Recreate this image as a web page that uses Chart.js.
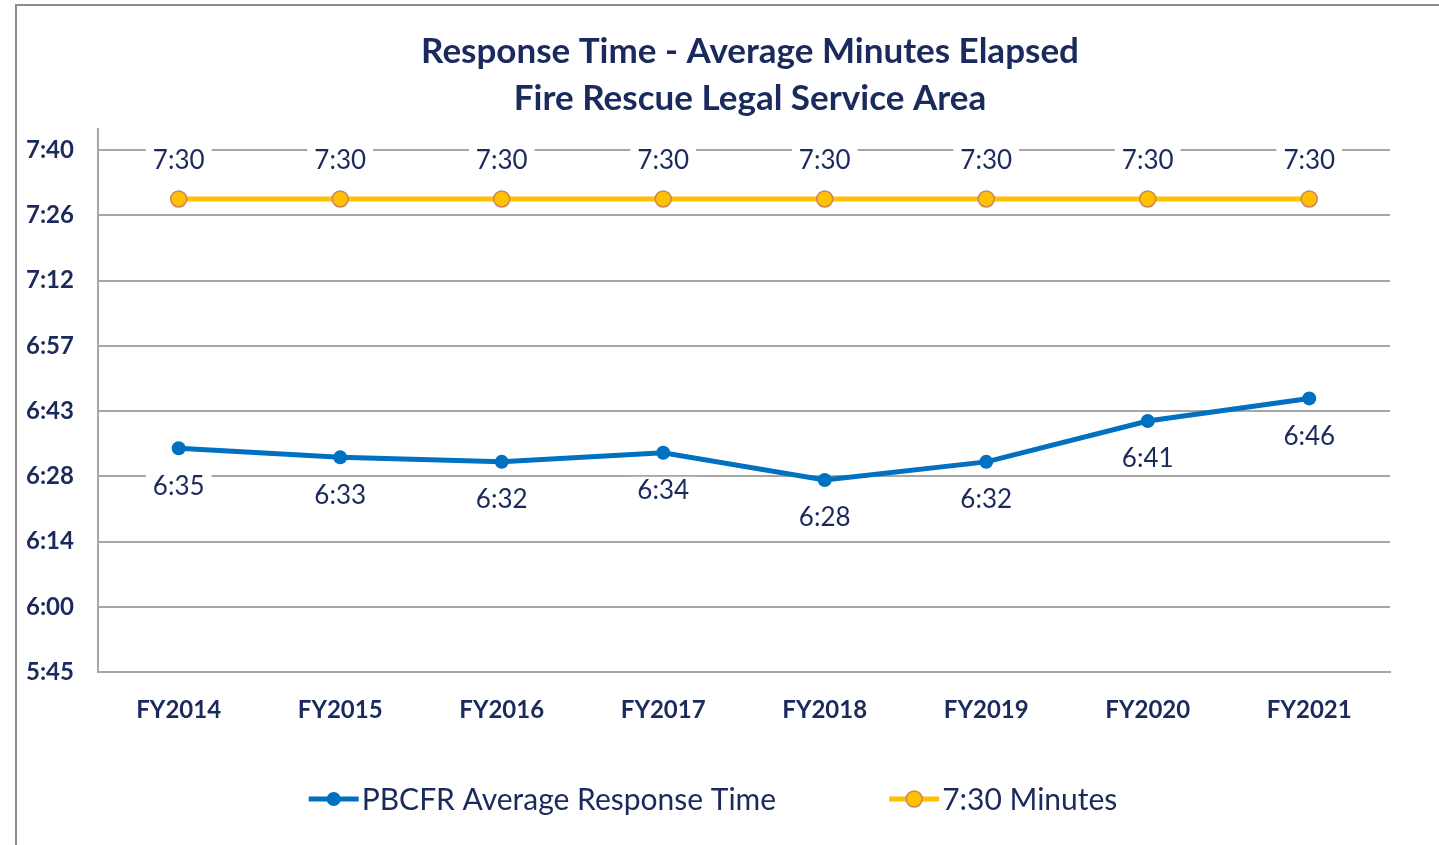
<!DOCTYPE html>
<html>
<head>
<meta charset="utf-8">
<script src="https://cdn.jsdelivr.net/npm/chart.js@4"></script>
<style>
    html, body { margin: 0; padding: 0; background: #fff; }
    .frame { position: absolute; left: 15px; top: 4px; width: 1440px; height: 860px; border-left: 2px solid #8c8c8c; border-top: 2px solid #8c8c8c; }
    .wrap { position: absolute; left: 0; top: 0; width: 1439px; height: 845px; }
</style>
</head>
<body>
<div class="frame"></div>
<div class="wrap"><canvas id="chart"></canvas></div>
<script>
// chart data (seconds)
const categories = ['FY2014', 'FY2015', 'FY2016', 'FY2017', 'FY2018', 'FY2019', 'FY2020', 'FY2021'];
const responseTime = [395, 393, 392, 394, 388, 392, 401, 406];
const targetTime = [450, 450, 450, 450, 450, 450, 450, 450];
// Excel axis: 0.004 day min, 0.000166.. day steps -> labels truncated to m:ss
const yMin = 345.6, yStep = 14.4;
const yTickLabels = ['5:45', '6:00', '6:14', '6:28', '6:43', '6:57', '7:12', '7:26', '7:40'];
const titleLines = ['Response Time - Average Minutes Elapsed', 'Fire Rescue Legal Service Area'];

const navy = '#1b2a5c';
const blue = '#0070c0';
const gold = '#ffc000';
const goldEdge = '#c8875a';

const fmt = s => Math.floor(s / 60) + ':' + String(s % 60).padStart(2, '0');

// value labels with a white box behind (covers gridlines like in Excel)
const valueLabels = {
    id: 'valueLabels',
    afterDatasetsDraw(chart) {
        const ctx = chart.ctx;
        ctx.save();
        ctx.font = '26px Lato';
        ctx.textAlign = 'center';
        ctx.textBaseline = 'middle';
        chart.data.datasets.forEach((ds, i) => {
            const meta = chart.getDatasetMeta(i);
            meta.data.forEach((pt, j) => {
                const txt = fmt(ds.data[j]);
                const w = ctx.measureText(txt).width + 14;
                const y = pt.y + ds.labelOffset;
                ctx.fillStyle = '#fff';
                ctx.fillRect(pt.x - w / 2, y - 14, w, 28);
                ctx.fillStyle = navy;
                ctx.fillText(txt, pt.x, y);
            });
        });
        ctx.restore();
    }
};

// title, legend and the little y-axis stub above the plot, Excel style
const decorations = {
    id: 'decorations',
    afterDraw(chart) {
        const ctx = chart.ctx;
        const area = chart.chartArea;
        ctx.save();

        // y axis goes a bit above the top gridline
        ctx.strokeStyle = '#a6a6a6';
        ctx.lineWidth = 2;
        ctx.beginPath();
        ctx.moveTo(area.left, area.top);
        ctx.lineTo(area.left, area.top - 22);
        ctx.stroke();

        // title
        ctx.fillStyle = navy;
        ctx.font = 'bold 35px Lato';
        ctx.textAlign = 'center';
        ctx.textBaseline = 'middle';
        titleLines.forEach((t, i) => ctx.fillText(t, 750, 52 + i * 47));

        // legend
        ctx.font = '30px Lato';
        ctx.textAlign = 'left';
        const iconW = 50, gap = 3, sep = 113, legendY = 799;
        const items = chart.data.datasets.map(ds => ({ ds, tw: ctx.measureText(ds.label).width }));
        const total = items.reduce((s, it) => s + iconW + gap + it.tw, 0) + sep * (items.length - 1);
        let x = 713 - total / 2;
        items.forEach(it => {
            const ds = it.ds;
            ctx.strokeStyle = ds.borderColor;
            ctx.lineWidth = 5;
            ctx.beginPath();
            ctx.moveTo(x, legendY);
            ctx.lineTo(x + iconW, legendY);
            ctx.stroke();
            ctx.fillStyle = ds.backgroundColor;
            ctx.beginPath();
            ctx.arc(x + iconW / 2, legendY, ds.pointRadius, 0, Math.PI * 2);
            ctx.fill();
            if (ds.pointBorderWidth) {
                ctx.strokeStyle = ds.pointBorderColor;
                ctx.lineWidth = ds.pointBorderWidth;
                ctx.stroke();
            }
            ctx.fillStyle = navy;
            ctx.fillText(ds.label, x + iconW + gap, legendY + 1);
            x += iconW + gap + it.tw + sep;
        });
        ctx.restore();
    }
};

new Chart(document.getElementById('chart'), {
    type: 'line',
    data: {
        labels: categories,
        datasets: [
            {
                label: 'PBCFR Average Response Time',
                data: responseTime,
                borderColor: blue,
                backgroundColor: blue,
                borderWidth: 5,
                pointRadius: 7,
                pointBorderWidth: 0,
                labelOffset: 38
            },
            {
                label: '7:30 Minutes',
                data: targetTime,
                borderColor: gold,
                backgroundColor: gold,
                borderWidth: 5,
                pointRadius: 8,
                pointBorderWidth: 1.5,
                pointBorderColor: goldEdge,
                labelOffset: -38
            }
        ]
    },
    options: {
        responsive: true,
        maintainAspectRatio: false,
        animation: false,
        layout: { padding: { left: 2, right: 49, top: 150, bottom: 96 } },
        elements: { line: { tension: 0 }, point: { pointStyle: 'circle' } },
        scales: {
            x: {
                offset: true,
                grid: { display: false, drawTicks: false },
                border: { color: '#a6a6a6', width: 2 },
                ticks: { color: navy, padding: 24, font: { family: 'Lato', size: 24, weight: 'bold' } }
            },
            y: {
                min: yMin,
                max: yMin + yStep * (yTickLabels.length - 1),
                afterBuildTicks(axis) {
                    axis.ticks = yTickLabels.map((t, i) => ({ value: yMin + i * yStep }));
                },
                grid: { color: '#a6a6a6', lineWidth: 2, drawTicks: false },
                border: { color: '#a6a6a6', width: 2 },
                ticks: {
                    color: navy,
                    padding: 24,
                    font: { family: 'Lato', size: 24, weight: 'bold' },
                    callback: (v, i) => yTickLabels[i]
                }
            }
        },
        plugins: {
            title: { display: false },
            legend: { display: false },
            tooltip: { enabled: false }
        }
    },
    plugins: [valueLabels, decorations]
});
</script>
</body>
</html>
